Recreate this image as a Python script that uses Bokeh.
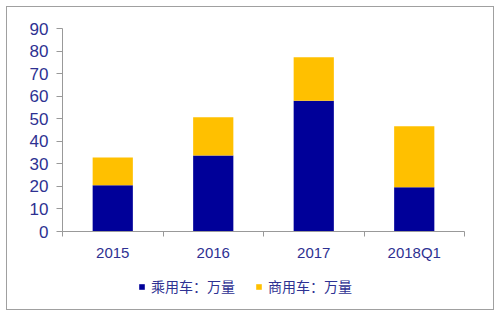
from bokeh.plotting import figure
from bokeh.layouts import column
from bokeh.models import (ColumnDataSource, FixedTicker, Legend, LegendItem,
                          Range1d)
from bokeh.embed import file_html
from bokeh.resources import INLINE

categories = ["2015", "2016", "2017", "2018Q1"]
passenger = [20.5, 33.7, 58.0, 19.6]
commercial = [12.3, 17.0, 19.3, 27.1]
y_ticks = [0, 10, 20, 30, 40, 50, 60, 70, 80, 90]
series_names = ["乘用车：万量", "商用车：万量"]

NAVY = "#000099"
GOLD = "#FFC000"
TXT = "#2E3192"

xs = [i + 0.5 for i in range(len(categories))]
tops = [a + b for a, b in zip(passenger, commercial)]
src = ColumnDataSource(dict(x=xs, p=passenger, t=tops))

p = figure(width=486, height=260, output_backend="svg", toolbar_location=None,
           x_range=Range1d(0, len(categories)), y_range=Range1d(0, 90),
           min_border_left=55, min_border_right=29, min_border_top=21,
           min_border_bottom=36)
p.outline_line_color = None
p.grid.visible = False

r1 = p.vbar(x="x", bottom=0, top="p", width=0.4, source=src,
            fill_color=NAVY, line_color=None)
r2 = p.vbar(x="x", bottom="p", top="t", width=0.4, source=src,
            fill_color=GOLD, line_color=None)

xa = p.xaxis[0]
xa.ticker = FixedTicker(ticks=xs, minor_ticks=list(range(len(categories) + 1)))
xa.major_label_overrides = {x: c for x, c in zip(xs, categories)}
xa.major_tick_line_color = None
xa.major_tick_out = 0
xa.major_tick_in = 0
xa.minor_tick_line_color = "#999999"
xa.minor_tick_out = 5
xa.minor_tick_in = 0
xa.axis_line_color = "#999999"
xa.major_label_text_font = "Liberation Sans"
xa.major_label_text_font_size = "15px"
xa.major_label_text_color = TXT
xa.major_label_standoff = 7

ya = p.yaxis[0]
ya.ticker = FixedTicker(ticks=y_ticks)
ya.minor_tick_line_color = None
ya.major_tick_line_color = "#999999"
ya.major_tick_out = 6
ya.major_tick_in = 0
ya.axis_line_color = "#999999"
ya.major_label_text_font = "Liberation Sans"
ya.major_label_text_font_size = "17px"
ya.major_label_text_color = TXT
ya.major_label_standoff = 8

# legend strip (zero-height swatch bars outside the visible range)
pl = figure(width=486, height=42, output_backend="svg", toolbar_location=None,
            x_axis_type=None, y_axis_type=None,
            x_range=Range1d(0, 1), y_range=Range1d(0, 1),
            min_border_left=0, min_border_right=0, min_border_top=0,
            min_border_bottom=0)
pl.outline_line_color = None
pl.grid.visible = False
swatch = ColumnDataSource(dict(x=[-10], t=[0]))
l1 = pl.vbar(x="x", top="t", width=0.1, source=swatch, fill_color=NAVY, line_color=None)
l2 = pl.vbar(x="x", top="t", width=0.1, source=swatch, fill_color=GOLD, line_color=None)

legend = Legend(items=[LegendItem(label=series_names[0], renderers=[l1]),
                       LegendItem(label=series_names[1], renderers=[l2])],
                orientation="horizontal", location=(76, 13),
                glyph_width=7, glyph_height=7, label_standoff=6, spacing=20,
                padding=0, margin=0, border_line_color=None,
                background_fill_alpha=0,
                label_text_font="Noto Sans CJK SC", label_text_font_size="14px",
                label_text_color=TXT)
pl.add_layout(legend, "center")

layout = column(p, pl, margin=(6, 6, 6, 6),
                styles={"border": "1px solid #A0A0A0"})

open("out.html", "w").write(file_html(layout, INLINE))
